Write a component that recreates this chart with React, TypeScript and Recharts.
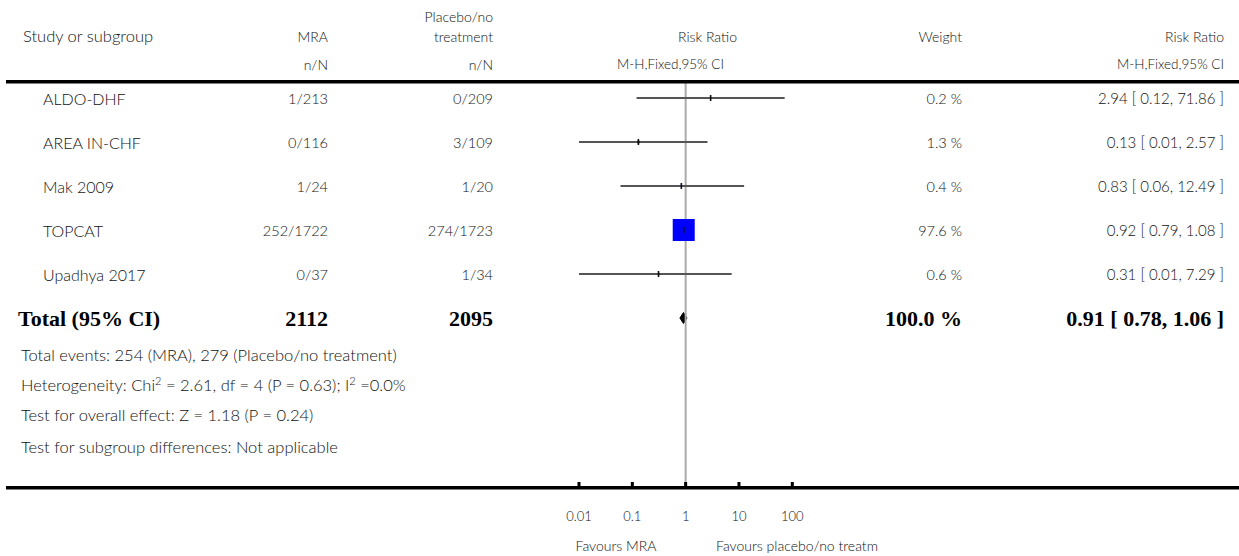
import React from 'react';
import {
  ComposedChart,
  XAxis,
  YAxis,
  Scatter,
  ErrorBar,
  ReferenceLine,
  Area,
} from 'recharts';

// ---- Study data ----
const studies = ['ALDO-DHF', 'AREA IN-CHF', 'Mak 2009', 'TOPCAT', 'Upadhya 2017'];
const mraEvents = ['1/213', '0/116', '1/24', '252/1722', '0/37'];
const placeboEvents = ['0/209', '3/109', '1/20', '274/1723', '1/34'];
const riskRatio = [2.94, 0.13, 0.83, 0.92, 0.31];
const ciLow = [0.12, 0.01, 0.06, 0.79, 0.01];
const ciHigh = [71.86, 2.57, 12.49, 1.08, 7.29];
const weights = [0.2, 1.3, 0.4, 97.6, 0.6];

// ---- Pooled estimate ----
const totalLabel = 'Total (95% CI)';
const totalMra = 2112;
const totalPlacebo = 2095;
const totalWeight = 100.0;
const totalRR = 0.91;
const totalLow = 0.78;
const totalHigh = 1.06;

// ---- Axis ----
const axisTicks = [0.01, 0.1, 1, 10, 100];
const axisTickLabels = ['0.01', '0.1', '1', '10', '100'];
const favoursLeft = 'Favours MRA';
const favoursRight = 'Favours placebo/no treatm';

// ---- Footnotes ----
const footTotalEvents = 'Total events: 254 (MRA), 279 (Placebo/no treatment)';
const footHeterogeneity = ['Heterogeneity: Chi', '2', ' = 2.61, df = 4 (P = 0.63); I', '2', ' =0.0%'];
const footOverall = 'Test for overall effect: Z = 1.18 (P = 0.24)';
const footSubgroup = 'Test for subgroup differences: Not applicable';

// ---- Layout ----
const W = 1239;
const H = 556;
const PLOT_LEFT = 579;
const PLOT_RIGHT = 792.3;
const PLOT_TOP = 82;
const PLOT_BOTTOM = 488;
const ROW_STEP = 44;
const FIRST_ROW_Y = 98;
const X_AXIS_H = 30;
const MAX_SIDE = 22;
const DIAMOND_HALF = 5.5 / ROW_STEP;

const yMin = -(FIRST_ROW_Y - PLOT_TOP) / ROW_STEP;
const yMax = yMin + (PLOT_BOTTOM - PLOT_TOP) / ROW_STEP;

const COL_NAME = 43;
const COL_MRA = 328;
const COL_PLACEBO = 493;
const COL_WEIGHT = 962;
const COL_RR = 1224;

const SANS = "Lato, 'Noto Sans', sans-serif";
const SERIF = "'Liberation Serif', 'DejaVu Serif', serif";
const INK = '#111';

const maxWeight = Math.max(...weights);
const fmt2 = (v: number) => v.toFixed(2);
const rrText = (rr: number, lo: number, hi: number) => `${fmt2(rr)} [ ${fmt2(lo)}, ${fmt2(hi)} ]`;

const studyRows = studies.map((name, i) => ({
  name,
  x: riskRatio[i],
  y: i,
  mra: mraEvents[i],
  placebo: placeboEvents[i],
  weight: weights[i],
  lo: ciLow[i],
  hi: ciHigh[i],
  err: [riskRatio[i] - ciLow[i], ciHigh[i] - riskRatio[i]],
}));

const totalRowIndex = studies.length;
const totalRows = [{ x: totalRR, y: totalRowIndex }];
const diamond = [
  { x: totalLow, band: [totalRowIndex, totalRowIndex] },
  { x: totalRR, band: [totalRowIndex - DIAMOND_HALF, totalRowIndex + DIAMOND_HALF] },
  { x: totalHigh, band: [totalRowIndex, totalRowIndex] },
];

const txt = (size: number) => ({
  fontFamily: SANS,
  fontSize: size,
  fontWeight: 300,
  fill: INK,
  dominantBaseline: 'central' as const,
});
const boldText = { fontFamily: SERIF, fontSize: 22, fontWeight: 700, fill: '#000', dominantBaseline: 'central' as const };

// Weighted square plus the text columns of a study row
const StudyRow = (props: any) => {
  const { cx, cy, payload } = props;
  const side = MAX_SIDE * Math.sqrt(payload.weight / maxWeight);
  return (
    <g>
      <rect x={cx - side / 2} y={cy - side / 2} width={side} height={side} fill="#0000ff" />
      <text x={COL_NAME} y={cy} {...txt(16)}>{payload.name}</text>
      <text x={COL_MRA} y={cy} textAnchor="end" {...txt(14.5)}>{payload.mra}</text>
      <text x={COL_PLACEBO} y={cy} textAnchor="end" {...txt(14.5)}>{payload.placebo}</text>
      <text x={COL_WEIGHT} y={cy} textAnchor="end" {...txt(14.5)}>{`${payload.weight.toFixed(1)} %`}</text>
      <text x={COL_RR} y={cy} textAnchor="end" {...txt(15)}>{rrText(payload.x, payload.lo, payload.hi)}</text>
    </g>
  );
};

// Point estimate tick drawn over the confidence interval
const EstimateTick = (props: any) => {
  const { cx, cy } = props;
  return <rect x={cx - 0.8} y={cy - 3} width={1.6} height={6} fill="#111" />;
};

const TotalRow = (props: any) => {
  const { cy } = props;
  return (
    <g>
      <text x={18} y={cy} {...boldText}>{totalLabel}</text>
      <text x={COL_MRA} y={cy} textAnchor="end" {...boldText}>{String(totalMra)}</text>
      <text x={COL_PLACEBO} y={cy} textAnchor="end" {...boldText}>{String(totalPlacebo)}</text>
      <text x={COL_WEIGHT} y={cy} textAnchor="end" {...boldText}>{`${totalWeight.toFixed(1)} %`}</text>
      <text x={COL_RR} y={cy} textAnchor="end" {...boldText}>{rrText(totalRR, totalLow, totalHigh)}</text>
    </g>
  );
};

const AxisTick = (props: any) => {
  const { x, y, payload } = props;
  const idx = axisTicks.indexOf(payload.value);
  return (
    <g>
      <rect x={x - 1.5} y={y - 6} width={3} height={6} fill="#000" />
      <text x={x} y={y + 28} textAnchor="middle" {...txt(13)}>
        {idx >= 0 ? axisTickLabels[idx] : String(payload.value)}
      </text>
    </g>
  );
};

export default function App() {
  return (
    <div style={{ position: 'relative', width: W, height: H, background: '#fff' }}>
      <style>{'body{margin:0;background:#fff}'}</style>
      <ComposedChart
        width={W}
        height={H}
        margin={{ top: PLOT_TOP, left: PLOT_LEFT, right: W - PLOT_RIGHT, bottom: H - PLOT_BOTTOM - X_AXIS_H }}
      >
        <XAxis
          dataKey="x"
          type="number"
          scale="log"
          domain={[0.01, 100]}
          ticks={axisTicks}
          interval={0}
          height={X_AXIS_H}
          tickSize={0}
          tickMargin={0}
          tickLine={false}
          axisLine={false}
          tick={<AxisTick />}
        />
        <YAxis dataKey="y" type="number" domain={[yMin, yMax]} reversed hide />
        <ReferenceLine x={1} stroke="#aaa" strokeWidth={2} />
        <Scatter data={studyRows} shape={<StudyRow />} isAnimationActive={false} />
        <Scatter data={studyRows} shape={<EstimateTick />} isAnimationActive={false}>
          <ErrorBar dataKey="err" direction="x" width={0} stroke="#555" strokeWidth={1.8} isAnimationActive={false} />
        </Scatter>
        <Area
          data={diamond}
          dataKey="band"
          type="linear"
          stroke="#000"
          strokeWidth={1}
          fill="#000"
          fillOpacity={1}
          dot={false}
          activeDot={false}
          isAnimationActive={false}
        />
        <Scatter data={totalRows} shape={<TotalRow />} isAnimationActive={false} />
      </ComposedChart>
      <svg width={W} height={H} style={{ position: 'absolute', left: 0, top: 0, pointerEvents: 'none' }}>
        {/* column headers */}
        <text x={23} y={36} {...txt(16.5)}>Study or subgroup</text>
        <text x={COL_MRA} y={36} textAnchor="end" {...txt(14)}>MRA</text>
        <text x={COL_MRA} y={64} textAnchor="end" {...txt(14)}>n/N</text>
        <text x={COL_PLACEBO} y={16} textAnchor="end" {...txt(14)}>Placebo/no</text>
        <text x={COL_PLACEBO} y={36} textAnchor="end" {...txt(14)}>treatment</text>
        <text x={COL_PLACEBO} y={64} textAnchor="end" {...txt(14)}>n/N</text>
        <text x={678} y={36} {...txt(14)}>Risk Ratio</text>
        <text x={617} y={64} {...txt(13.5)}>M-H,Fixed,95% CI</text>
        <text x={COL_WEIGHT} y={36} textAnchor="end" {...txt(14)}>Weight</text>
        <text x={COL_RR} y={36} textAnchor="end" {...txt(14)}>Risk Ratio</text>
        <text x={COL_RR} y={64} textAnchor="end" {...txt(13.5)}>M-H,Fixed,95% CI</text>
        {/* rules */}
        <rect x={6} y={80} width={W - 6} height={3.5} fill="#000" />
        <rect x={6} y={486} width={W - 6} height={3.5} fill="#000" />
        {/* footnotes */}
        <text x={21} y={355} {...txt(16.5)}>{footTotalEvents}</text>
        <text x={21} y={385} {...txt(16.5)}>
          {footHeterogeneity[0]}
          <tspan fontSize={11} dy={-5}>{footHeterogeneity[1]}</tspan>
          <tspan dy={5}>{footHeterogeneity[2]}</tspan>
          <tspan fontSize={11} dy={-5}>{footHeterogeneity[3]}</tspan>
          <tspan dy={5}>{footHeterogeneity[4]}</tspan>
        </text>
        <text x={21} y={415} {...txt(16.5)}>{footOverall}</text>
        <text x={21} y={447} {...txt(16.5)}>{footSubgroup}</text>
        {/* direction labels */}
        <text x={616} y={545} textAnchor="middle" {...txt(14)}>{favoursLeft}</text>
        <text x={797} y={545} textAnchor="middle" {...txt(14)}>{favoursRight}</text>
      </svg>
    </div>
  );
}
